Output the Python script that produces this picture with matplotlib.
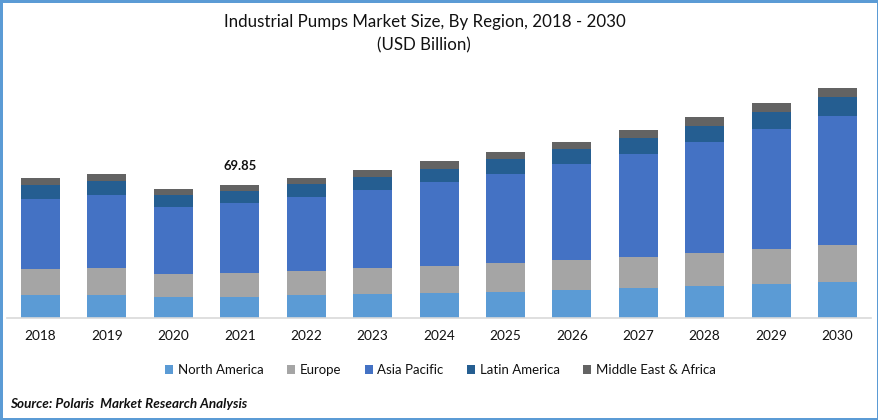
import matplotlib
matplotlib.use("Agg")
import matplotlib.pyplot as plt
from matplotlib.patches import Rectangle
import numpy as np

plt.rcParams['font.family'] = ['Lato', 'DejaVu Sans']

years = [2018, 2019, 2020, 2021, 2022, 2023, 2024, 2025, 2026, 2027, 2028, 2029, 2030]
north_america = [12.1, 12.1, 11.0, 11.0, 12.1, 12.6, 13.1, 13.7, 14.7, 15.8, 16.8, 17.9, 18.9]
europe = [13.7, 14.2, 12.1, 12.6, 12.6, 13.7, 14.2, 15.2, 15.8, 16.3, 17.3, 18.4, 19.4]
asia_pacific = [36.8, 38.3, 35.2, 36.8, 38.9, 41.0, 44.1, 46.7, 50.4, 54.1, 58.3, 63.0, 67.8]
latin_america = [7.4, 7.4, 6.3, 6.3, 6.8, 6.8, 6.8, 7.9, 7.9, 8.4, 8.4, 8.9, 10.0]
middle_east = [3.7, 3.7, 3.2, 3.15, 3.2, 3.7, 4.2, 3.7, 3.7, 4.2, 4.7, 4.7, 4.7]
series_names = ["North America", "Europe", "Asia Pacific", "Latin America", "Middle East & Africa"]
series_colors = ["#5B9BD5", "#A5A5A5", "#4472C4", "#255E91", "#636363"]
annotated_index = 3
annotated_label = "69.85"

W, H = 879, 420
fig = plt.figure(figsize=(W / 100, H / 100), dpi=100, facecolor="white")
ax = fig.add_axes([7 / W, (H - 318) / H, (871 - 7) / W, 248 / H])

x = np.arange(len(years))
bottom = np.zeros(len(years))
all_series = [north_america, europe, asia_pacific, latin_america, middle_east]
for vals, name, color in zip(all_series, series_names, series_colors):
    ax.bar(x, vals, width=0.587, bottom=bottom, color=color, label=name, linewidth=0)
    bottom += np.array(vals)

ax.set_xlim((7 - 40.5) / 66.42, (871 - 40.5) / 66.42)
ax.set_ylim(0, 248 * 69.85 / 133)
ax.set_xticks(x)
ax.set_xticklabels(years, fontsize=9.8, color="#111111")
ax.tick_params(axis="x", length=0, pad=8.5)
ax.set_yticks([])
for s in ["top", "right", "left"]:
    ax.spines[s].set_visible(False)
ax.spines["bottom"].set_color("#D9D9D9")
ax.spines["bottom"].set_linewidth(1.2)

ax.annotate(annotated_label, (annotated_index, bottom[annotated_index]), xytext=(0, 9),
            textcoords="offset points", ha="center", va="bottom",
            fontsize=9.4, fontweight="bold", color="#111111")

fig.text(424.5 / W, 1 - 22 / H, "Industrial Pumps Market Size, By Region, 2018 - 2030",
         ha="center", va="center", fontsize=12.2, color="#111111")
fig.text(424 / W, 1 - 45 / H, "(USD Billion)", ha="center", va="center",
         fontsize=12.2, color="#111111")

fig.legend(loc="center", bbox_to_anchor=(440.5 / W, 1 - 370 / H), ncol=5, frameon=False,
           fontsize=9.55, handlelength=0.62, handleheight=0.62, handletextpad=0.35,
           columnspacing=1.75, labelcolor="#111111")

fig.text(10 / W, 1 - 404 / H, "Source: Polaris  Market Research Analysis", ha="left", va="center",
         fontsize=9.7, fontweight="bold", fontstyle="italic", color="#111111")

fig.add_artist(Rectangle((0, 0), 1, 1, transform=fig.transFigure, fill=False,
                         edgecolor="#5B9BD5", linewidth=3.6))

fig.savefig("out.png", dpi=100)
